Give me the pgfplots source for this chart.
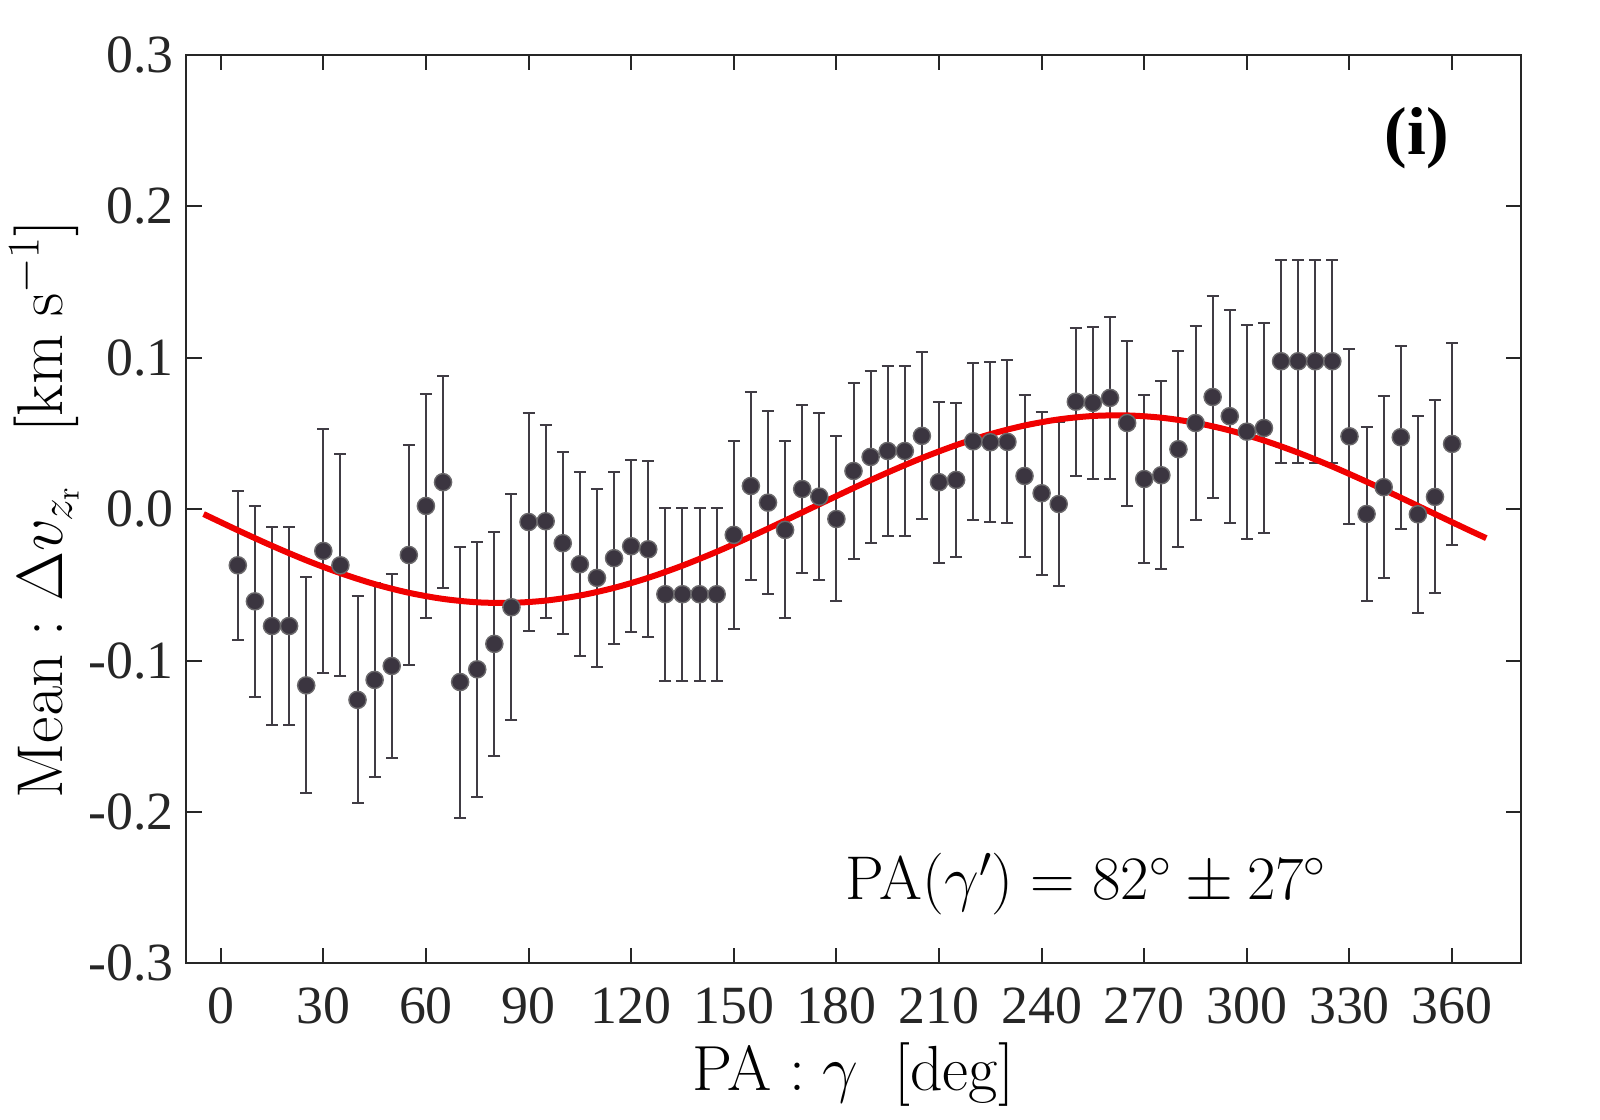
\RequirePackage{fix-cm}
\documentclass[border=0pt]{standalone}
\usepackage[no-math]{fontspec}
\setmainfont{Liberation Serif}
\usepackage{pgfplots}
\pgfplotsset{compat=1.18}
\usepackage{pgfplotstable}
\definecolor{axc}{HTML}{262626}
\definecolor{ptc}{HTML}{3B3540}
\definecolor{ebc}{HTML}{403C44}
\definecolor{fitc}{HTML}{F00000}

\pgfplotstableread{
x y e
5 -0.0371 0.0494
10 -0.0609 0.0632
15 -0.0772 0.0656
20 -0.0772 0.0656
25 -0.1164 0.0713
30 -0.0276 0.0805
35 -0.0371 0.0733
40 -0.1260 0.0683
45 -0.1128 0.0640
50 -0.1036 0.0610
55 -0.0303 0.0729
60 0.0021 0.0740
65 0.0178 0.0701
70 -0.1142 0.0895
75 -0.1058 0.0841
80 -0.0890 0.0742
85 -0.0648 0.0745
90 -0.0085 0.0721
95 -0.0080 0.0637
100 -0.0225 0.0603
105 -0.0364 0.0607
110 -0.0454 0.0588
115 -0.0324 0.0570
120 -0.0245 0.0568
125 -0.0265 0.0580
130 -0.0562 0.0572
135 -0.0562 0.0572
140 -0.0562 0.0572
145 -0.0562 0.0572
150 -0.0170 0.0620
155 0.0153 0.0622
160 0.0043 0.0603
165 -0.0137 0.0585
170 0.0133 0.0558
175 0.0083 0.0554
180 -0.0065 0.0545
185 0.0252 0.0580
190 0.0345 0.0568
195 0.0384 0.0562
200 0.0384 0.0562
205 0.0484 0.0551
210 0.0178 0.0532
215 0.0193 0.0507
220 0.0448 0.0519
225 0.0442 0.0528
230 0.0444 0.0538
235 0.0219 0.0534
240 0.0105 0.0539
245 0.0034 0.0542
250 0.0710 0.0488
255 0.0702 0.0500
260 0.0735 0.0537
265 0.0569 0.0545
270 0.0199 0.0557
275 0.0224 0.0620
280 0.0396 0.0647
285 0.0569 0.0640
290 0.0741 0.0670
295 0.0614 0.0704
300 0.0512 0.0706
305 0.0536 0.0694
310 0.0977 0.0670
315 0.0977 0.0670
320 0.0977 0.0670
325 0.0977 0.0670
330 0.0481 0.0576
335 -0.0032 0.0577
340 0.0145 0.0601
345 0.0475 0.0604
350 -0.0034 0.0651
355 0.0081 0.0637
360 0.0431 0.0665
}\meandata

\pgfplotstableread{
x y
-5 -0.00324
5 -0.01395
15 -0.02422
25 -0.03377
35 -0.04228
45 -0.04951
55 -0.05524
65 -0.05929
75 -0.06154
85 -0.06191
95 -0.06041
105 -0.05707
115 -0.05200
125 -0.04535
135 -0.03731
145 -0.02815
155 -0.01813
165 -0.00756
175 0.00324
185 0.01395
195 0.02422
205 0.03377
215 0.04228
225 0.04951
235 0.05524
245 0.05929
255 0.06154
265 0.06191
275 0.06041
285 0.05707
295 0.05200
305 0.04535
315 0.03731
325 0.02815
335 0.01813
345 0.00756
355 -0.00324
365 -0.01395
370 -0.01916
}\fitdata

\begin{document}
\begin{tikzpicture}
\path[use as bounding box] (-93.25bp,-78.35bp) rectangle (706.75bp,481.65bp);
\begin{axis}[
  at={(0,0)}, anchor=south west,
  scale only axis, width=667bp, height=454.15bp,
  xmin=-10, xmax=380, ymin=-0.3, ymax=0.3,
  xtick={0,30,...,360},
  xticklabels={0,30,60,90,120,150,180,210,240,270,300,330,360},
  ytick={-0.3,-0.2,-0.1,0,0.1,0.2,0.3},
  yticklabels={-0.3,-0.2,-0.1,0.0,0.1,0.2,0.3},
  tick align=inside,
  major tick length=7.5bp,
  axis line style={axc, line width=1bp},
  every tick/.style={axc, line width=1bp},
  tick label style={text=axc, font=\fontsize{27}{31}\selectfont},
  xticklabel style={yshift=-8.5bp},
  yticklabel style={xshift=-3bp},
  xlabel={$\mathrm{PA}:\gamma\;\;[\mathrm{deg}]$},
  ylabel={$\mathrm{Mean}:\Delta v_{z_{\mathrm{r}}}\;\;\;[\mathrm{km}\;\mathrm{s}^{-1}]$},
  xlabel style={font=\fontsize{32}{36}\selectfont, at={(axis description cs:0.5,-0.1395)}, anchor=base, inner sep=0pt},
  ylabel style={font=\fontsize{32.5}{37}\selectfont, at={(axis description cs:-0.1068,0.5)}, anchor=center, inner sep=0pt},
  clip=false,
]
\addplot[draw=none, mark=none, forget plot,
  error bars/.cd, y dir=both, y explicit,
  error bar style={ebc, line width=1bp},
  error mark options={ebc, rotate=90, mark size=3bp, line width=1bp}]
  table[x=x, y=y, y error=e] {\meandata};
\addplot[fitc, line width=3bp, smooth, mark=none] table[x=x, y=y] {\fitdata};
\addplot[only marks, mark=*, mark size=4.3bp,
  mark options={fill=ptc, draw=gray!70!ptc, line width=0.7bp}]
  table[x=x, y=y] {\meandata};
\node[anchor=base, font=\fontsize{31}{35}\selectfont, inner sep=0pt] at (axis cs:253,-0.258) {$\mathrm{PA}(\gamma')=82^\circ\pm27^\circ$};
\node[anchor=center, font=\fontsize{34}{38}\selectfont\bfseries, inner sep=0pt] at (axis cs:349.7,0.245) {(i)};
\end{axis}
\end{tikzpicture}
\end{document}
